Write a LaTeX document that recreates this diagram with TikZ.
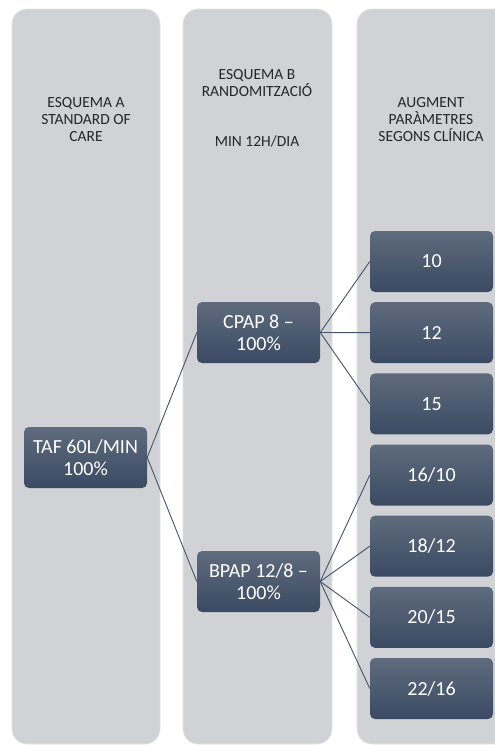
\documentclass[tikz,border=0pt]{standalone}
\usepackage{fontspec}
\setmainfont{Carlito}
\usepackage{tikz}
\definecolor{lanefill}{HTML}{D0D2D6}
\definecolor{boxtop}{HTML}{5F6B7D}
\definecolor{boxbot}{HTML}{3B4A63}
\definecolor{linkcol}{HTML}{44546A}
\tikzset{
  lane/.style={fill=lanefill,draw=lanefill!60!white,line width=0.6pt,rounded corners=15pt},
  head/.style={align=center,text=black!85,font=\fontsize{15.5}{17}\selectfont},
  stage/.style={rectangle,rounded corners=5pt,top color=boxtop,bottom color=boxbot,text=white,
    minimum width=123pt,minimum height=61pt,inner sep=0pt,align=center,font=\fontsize{20}{22.5}\selectfont},
  link/.style={draw=linkcol,line width=0.9pt},
}

\begin{document}
\begin{tikzpicture}[x=1pt,y=-1pt]

  \clip (0,0) rectangle (495,745);
  \fill[white] (0,0) rectangle (495,745);
  % lanes
  \foreach \xa/\xb in {12/160, 183/332, 357/520}
    \draw[lane] (\xa,9) rectangle (\xb,744);
  % lane headers
  \node[head] (headA) at (86,120) {ESQUEMA A\\STANDARD OF\\CARE};
  \node[head] (headB) at (257,108) {ESQUEMA B\\RANDOMITZACIÓ\\[33pt]MIN 12H/DIA};
  \node[head] (headC) at (431,120) {AUGMENT\\PARÀMETRES\\SEGONS CLÍNICA};
  % standard of care and randomised arms
  \node[stage] (taf) at (85.5,457.5) {TAF 60L/MIN\\100\%};
  \node[stage] (cpap) at (258.5,332.5) {CPAP 8 –\\100\%};
  \node[stage] (bpap) at (258.5,581.5) {BPAP 12/8 –\\100\%};
  % parameter steps
  \foreach \n/\t [count=\i from 0] in {c10/10, c12/12, c15/15, b16/{16/10}, b18/{18/12}, b20/{20/15}, b22/{22/16}}
    \node[stage] (\n) at (431.5,{261.5+71.17*\i}) {\t};
  % links
  \draw[link] (taf.east) -- (cpap.west);
  \draw[link] (taf.east) -- (bpap.west);
  \foreach \n in {c10,c12,c15}
    \draw[link] (cpap.east) -- (\n.west);
  \foreach \n in {b16,b18,b20,b22}
    \draw[link] (bpap.east) -- (\n.west);
\end{tikzpicture}
\end{document}
